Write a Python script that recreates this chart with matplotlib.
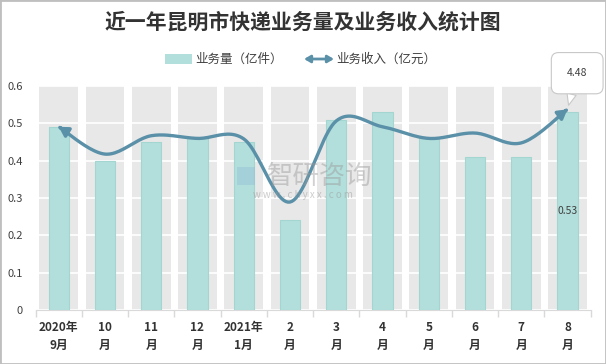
import numpy as np
import matplotlib
matplotlib.use("Agg")
import matplotlib.pyplot as plt
from matplotlib.patches import Rectangle, FancyArrowPatch
from matplotlib.path import Path

plt.rcParams['font.family'] = ['Noto Sans CJK SC', 'DejaVu Sans']

months = ["2020年\n9月", "10\n月", "11\n月", "12\n月", "2021年\n1月", "2\n月",
          "3\n月", "4\n月", "5\n月", "6\n月", "7\n月", "8\n月"]
volume = [0.49, 0.40, 0.45, 0.46, 0.45, 0.24, 0.51, 0.53, 0.46, 0.41, 0.41, 0.53]   # 亿件
revenue = [4.09, 3.48, 3.89, 3.83, 3.82, 2.41, 4.22, 4.09, 3.83, 3.95, 3.73, 4.48]  # 亿元

bar_c = '#b2dfdb'
line_c = '#5a90a8'
txt_c = '#404040'


def smooth(x, y, n=24):
    # bezier smoothing like office charts
    p = np.column_stack([x, y]).astype(float)
    P = np.vstack([p[0], p, p[-1]])
    out = []
    for i in range(1, len(P) - 2):
        p0, p1, p2, p3 = P[i - 1], P[i], P[i + 1], P[i + 2]
        c1 = p1 + (p2 - p0) / 6
        c2 = p2 - (p3 - p1) / 6
        t = np.linspace(0, 1, n)[:, None]
        b = (1 - t) ** 3 * p1 + 3 * (1 - t) ** 2 * t * c1 + 3 * (1 - t) * t ** 2 * c2 + t ** 3 * p2
        out.append(b if i == len(P) - 3 else b[:-1])
    return np.vstack(out)


fig = plt.figure(figsize=(6.06, 3.64), dpi=100)
ax = fig.add_axes([35.6 / 606, 1 - 310 / 364, 555 / 606, 224 / 364])
x = np.arange(len(months))
ymax = 0.6

ax.bar(x, np.full(len(x), ymax), width=0.84, color='#e8e8e8', zorder=1)
ax.set_axisbelow('line')
ax.yaxis.grid(True, color='white', lw=1.2)
ax.bar(x, volume, width=0.44, color=bar_c, edgecolor='#a3d6d1', lw=0.8, zorder=3)
ax.text(x[-1], volume[-1] / 2, f"{volume[-1]:.2f}", ha='center', va='center',
        fontsize=7.5, color=txt_c, zorder=5)

ax.set_xlim(-0.5, len(x) - 0.5)
ax.set_ylim(0, ymax)
ax.set_yticks(np.arange(0, 0.61, 0.1))
ax.set_yticklabels(["0"] + [f"{v:.1f}" for v in np.arange(0.1, 0.61, 0.1)])
ax.set_xticks(x)
ax.set_xticklabels(months, fontsize=8.5, fontweight='bold', color='#333333', linespacing=1.5)
ax.set_xticks(np.arange(-0.5, len(x), 1), minor=True)
ax.tick_params(axis='x', which='major', length=0, pad=8)
ax.tick_params(axis='x', which='minor', length=5, color='#d9d9d9', width=1)
ax.tick_params(axis='y', length=0, pad=9, labelsize=8, labelcolor=txt_c)
for s in ['top', 'right', 'left']:
    ax.spines[s].set_visible(False)
ax.spines['bottom'].set_color('#d9d9d9')

ax2 = ax.twinx()
ax2.set_ylim(0, 5)
ax2.set_yticks([])
for s in ax2.spines.values():
    s.set_visible(False)
curve = smooth(x, revenue)
arr = FancyArrowPatch(path=Path(curve), arrowstyle='<|-|>,head_length=0.6,head_width=0.35',
                      mutation_scale=9, color=line_c, lw=2.4, zorder=4)
ax2.add_patch(arr)
ax2.annotate(f"{revenue[-1]:.2f}", xy=(x[-1], revenue[-1]), xytext=(7, 26),
             textcoords='offset points', ha='center', va='center', fontsize=7.5, color=txt_c,
             bbox=dict(boxstyle='round,pad=1.5,rounding_size=0.7', fc='white', ec='#c8c8c8', lw=0.8),
             arrowprops=dict(arrowstyle='wedge,tail_width=0.9', fc='white', ec='#c8c8c8',
                             lw=0.8, shrinkA=0, shrinkB=3),
             annotation_clip=False, zorder=6)

# watermark
fig.text(320 / 606, 1 - 176 / 364, "智研咨询", fontsize=19, color='#9a9a9a', alpha=0.45,
         ha='center', va='center')
fig.text(303 / 606, 1 - 195 / 364, "w w w . c h y x x . c o m", fontsize=7, color='#9a9a9a',
         alpha=0.5, ha='center', va='center')
fig.patches.append(Rectangle((237 / 606, 1 - 185 / 364), 18 / 606, 18 / 364, fc='#8ab8d6',
                             alpha=0.35, transform=fig.transFigure, figure=fig))

# title and legend
fig.text(0.5, 1 - 22 / 364, "近一年昆明市快递业务量及业务收入统计图", fontsize=15,
         fontweight='bold', color='#333333', ha='center', va='center')
ly = 1 - 59 / 364
fig.patches.append(Rectangle((165 / 606, ly - 5 / 364), 27 / 606, 10 / 364, fc=bar_c,
                             transform=fig.transFigure, figure=fig))
fig.text(195 / 606, ly, "业务量（亿件）", fontsize=9, color=txt_c, va='center')
fig.patches.append(FancyArrowPatch((304 / 606, ly), (334 / 606, ly), transform=fig.transFigure,
                                   arrowstyle='<|-|>,head_length=0.6,head_width=0.35',
                                   mutation_scale=6, color=line_c, lw=2.0, shrinkA=0, shrinkB=0,
                                   figure=fig))
fig.text(336 / 606, ly, "业务收入（亿元）", fontsize=9, color=txt_c, va='center')

fig.patches.append(Rectangle((0, 0), 1, 1, fill=False, ec='#bfbfbf', lw=2,
                             transform=fig.transFigure, figure=fig))

plt.savefig("out.png", dpi=100)
